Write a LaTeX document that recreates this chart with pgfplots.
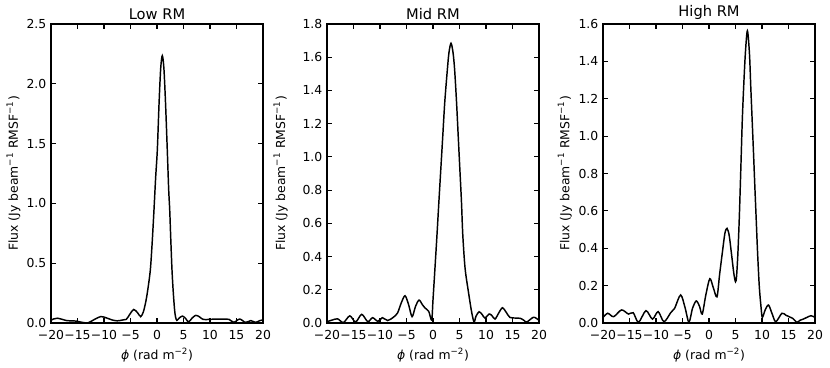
\documentclass[border=0pt]{standalone}
\usepackage{fontspec}
\setmainfont{DejaVu Sans}
\usepackage{pgfplots}
\pgfplotsset{compat=1.18}
\usepgfplotslibrary{groupplots}

% 1px of the reference = 0.75pt
\pgfplotsset{
  rmpanel/.style={
    scale only axis, width=159pt, height=224.25pt,
    xmin=-20, xmax=20, ymin=0,
    xtick={-20,-15,...,20},
    xticklabels={−20,−15,−10,−5,0,5,10,15,20},
    tick align=inside, xtick pos=both, ytick pos=both,
    xticklabel pos=lower, yticklabel pos=left,
    major tick length=3.5pt,
    axis line style={line width=0.9pt},
    tick style={line width=0.8pt,black},
    ticklabel style={font=\fontsize{9.3}{11}\selectfont},
    xticklabel style={yshift=-2.3pt},
    label style={font=\fontsize{9.3}{11}\selectfont},
    every axis title shift=0pt,
    title style={font=\fontsize{11}{13}\selectfont},
    xlabel={{\itshape ϕ} (rad m\textsuperscript{−2})},
    ylabel={Flux (Jy beam\textsuperscript{−1} RMSF\textsuperscript{−1})},
    xlabel style={at={(axis description cs:0.5,0)},anchor=center,yshift=-24pt},
  },
  rmf/.style={black, line width=1.1pt, smooth, mark=none},
}

\begin{document}
\begin{tikzpicture}
\begin{groupplot}[group style={group size=3 by 1, horizontal sep=48pt}, rmpanel]

\nextgroupplot[title={Low RM}, ymax=2.5,
  ytick={0,0.5,1,1.5,2,2.5}, yticklabels={0.0,0.5,1.0,1.5,2.0,2.5},
  ylabel style={at={(axis description cs:-0.177,0.5)},anchor=center}]
\addplot[rmf] coordinates {(-20,0.022) (-19.5,0.034) (-18.8,0.04) (-18,0.032) (-17,0.02) (-16,0.018) (-15.2,0.016) (-14.2,0.006) (-13,0.002) (-11.8,0.03) (-10.6,0.054) (-9.5,0.042) (-8.5,0.026) (-7.5,0.018) (-6.5,0.025) (-5.8,0.03) (-5.1,0.075) (-4.4,0.113) (-3.7,0.088) (-3.08,0.053) (-2.6,0.09) (-2.2,0.16) (-1.8,0.26) (-1.26,0.443) (-0.9,0.68) (-0.57,0.945) (-0.25,1.22) (0.06,1.446) (0.4,1.85) (0.7,2.13) (1.0,2.235) (1.3,2.13) (1.6,1.85) (1.94,1.446) (2.2,1.12) (2.4,0.945) (2.6,0.7) (2.83,0.443) (3.05,0.27) (3.3,0.12) (3.5,0.05) (3.75,0.022) (4.2,0.042) (4.8,0.058) (5.4,0.038) (5.95,0.008) (6.6,0.04) (7.3,0.064) (8,0.052) (8.7,0.03) (9.8,0.03) (11,0.033) (12.5,0.033) (13.6,0.03) (14.5,0.006) (15.6,0.033) (16.7,0.005) (17.7,0.02) (18.6,0.005) (19.4,0.02) (20,0.026)};
\coordinate (bl) at (rel axis cs:0,0);

\nextgroupplot[title={Mid RM}, ymax=1.8,
  ytick={0,0.2,...,1.8}, yticklabels={0.0,0.2,0.4,0.6,0.8,1.0,1.2,1.4,1.6,1.8},
  ylabel style={at={(axis description cs:-0.219,0.5)},anchor=center}]
\addplot[rmf] coordinates {(-20,0.008) (-19,0.018) (-18,0.025) (-16.9,0.003) (-15.7,0.043) (-14.6,0.006) (-13.45,0.052) (-12.3,0.008) (-11.4,0.032) (-10.4,0.01) (-9.56,0.032) (-8.56,0.015) (-7.5,0.034) (-6.7,0.06) (-6,0.12) (-5.28,0.164) (-4.6,0.11) (-3.95,0.038) (-3.3,0.1) (-2.64,0.138) (-2.0,0.11) (-1.5,0.09) (-0.8,0.07) (-0.25,0.018) (0,0.14) (0.37,0.33) (0.75,0.53) (1.11,0.73) (1.48,0.93) (1.85,1.13) (2.22,1.33) (2.72,1.53) (3.02,1.63) (3.4,1.684) (3.77,1.63) (4.07,1.53) (4.44,1.33) (4.75,1.13) (5.06,0.93) (5.37,0.73) (5.62,0.53) (6.05,0.33) (6.67,0.19) (7.28,0.068) (7.75,0.006) (8.1,0.04) (8.7,0.068) (9.3,0.05) (9.8,0.03) (10.6,0.054) (11.1,0.045) (11.7,0.024) (12.4,0.06) (13.1,0.092) (13.8,0.065) (14.5,0.034) (15.5,0.03) (16.5,0.028) (17.2,0.015) (17.7,0.006) (18.9,0.034) (19.5,0.028) (20,0.016)};

\nextgroupplot[title={High RM}, ymax=1.6,
  ytick={0,0.2,...,1.6}, yticklabels={0.0,0.2,0.4,0.6,0.8,1.0,1.2,1.4,1.6},
  ylabel style={at={(axis description cs:-0.18,0.5)},anchor=center}]
\addplot[rmf] coordinates {(-20,0.03) (-19.1,0.052) (-18,0.034) (-16.5,0.07) (-15.2,0.048) (-14.3,0.055) (-13.3,0.004) (-11.9,0.066) (-10.67,0.021) (-9.6,0.061) (-8.5,0.007) (-7.23,0.055) (-6.5,0.078) (-5.35,0.15) (-4.5,0.08) (-3.79,0.004) (-3.1,0.08) (-2.4,0.118) (-1.8,0.09) (-1.28,0.048) (-0.6,0.15) (0.15,0.237) (0.8,0.19) (1.5,0.14) (2.0,0.26) (2.5,0.373) (3.0,0.48) (3.4,0.506) (3.8,0.47) (4.23,0.373) (4.68,0.266) (5.0,0.221) (5.2,0.25) (5.45,0.373) (5.7,0.551) (5.9,0.729) (6.09,0.908) (6.28,1.086) (6.54,1.264) (6.86,1.443) (7.24,1.564) (7.63,1.443) (7.88,1.264) (8.14,1.086) (8.4,0.908) (8.65,0.729) (8.91,0.551) (9.17,0.373) (9.49,0.194) (9.81,0.087) (10.06,0.03) (10.6,0.07) (11.23,0.096) (11.9,0.05) (12.6,0.007) (13.75,0.052) (14.5,0.042) (15.1,0.034) (15.8,0.025) (16.56,0.004) (17.2,0.015) (17.8,0.021) (19.25,0.039) (20,0.029)};
\coordinate (tr) at (rel axis cs:1,1);
\end{groupplot}
\pgfresetboundingbox
\path ([shift={(-38.25pt,-33pt)}]bl) rectangle ([shift={(11.25pt,18pt)}]tr);
\end{tikzpicture}
\end{document}
